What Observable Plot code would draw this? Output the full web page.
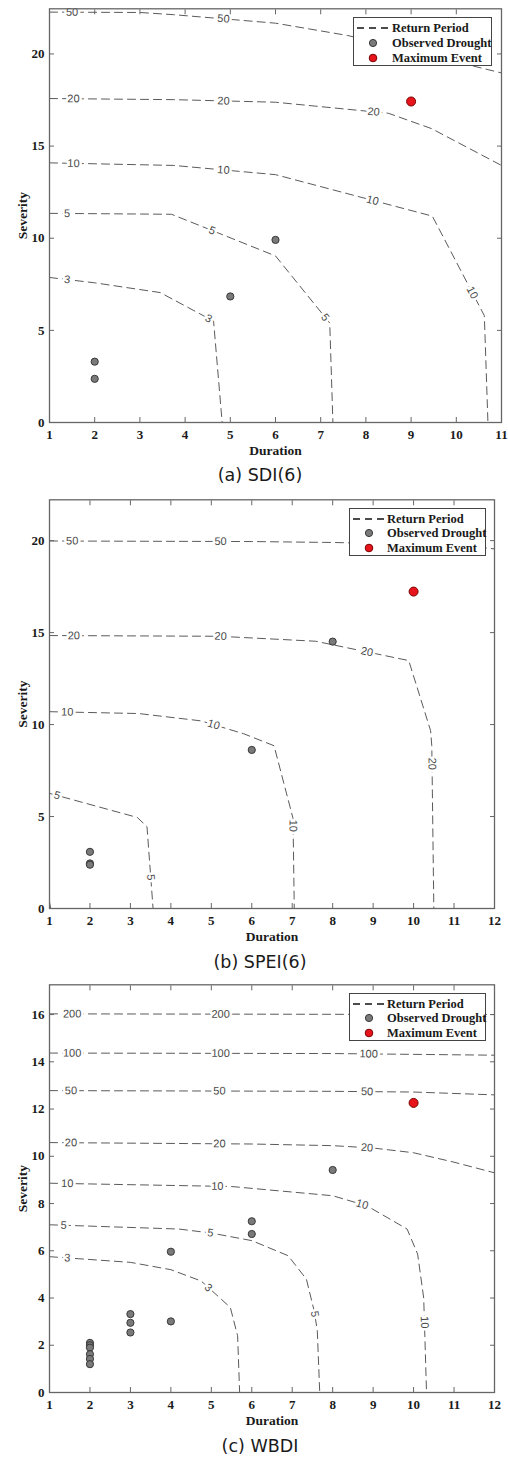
<!DOCTYPE html>
<html><head><meta charset="utf-8">
<script src="https://cdn.jsdelivr.net/npm/d3@7"></script>
<script src="https://cdn.jsdelivr.net/npm/@observablehq/plot@0.6"></script>
<style>
body{margin:0;background:#fff;}
#root{position:relative;width:508px;height:1457px;overflow:hidden;}
.panel{position:absolute;left:0;}
.caption{position:absolute;left:0;width:520px;text-align:center;font-family:"DejaVu Sans",sans-serif;font-size:17.5px;line-height:22px;color:#1a1a1a;}
.legend{position:absolute;border:1px solid #444;background:#fff;font-family:"Liberation Serif",serif;font-weight:bold;font-size:12.5px;color:#1a1a1a;box-sizing:border-box;}
.legend .row{position:absolute;left:0;right:0;height:14px;line-height:14px;white-space:nowrap;}
.legend svg{position:absolute;left:0;top:0;}
.legend span{position:absolute;top:0;}
</style>
</head><body>
<div id="root"></div>
<script>
// ---------- (a) SDI(6) ----------
const sdiLevels = [3, 5, 10, 20, 50];
const sdiRP3  = [[1,7.87],[2,7.58],[3.45,7.05],[4.63,5.5],[4.82,0]];
const sdiRP5  = [[1,11.35],[3.7,11.3],[6,9.04],[7.2,5.4],[7.27,0]];
const sdiRP10 = [[1,14.09],[3.75,13.95],[6,13.45],[9.47,11.2],[10.62,5.8],[10.7,0]];
const sdiRP20 = [[1,17.58],[3.75,17.52],[6,17.38],[8.5,16.78],[9.45,15.95],[11,13.95]];
const sdiRP50 = [[1,22.27],[3,22.25],[3.75,22.13],[6,21.67],[7.6,21.0],[10.7,19.15],[11,18.97]];
const sdiLabels = [[50,"x",1.5],[50,"x",4.85],[20,"x",1.53],[20,"x",4.85],[20,"x",8.17],
  [10,"x",1.53],[10,"x",4.85],[10,"x",8.15],[10,"y",7.05],[5,"x",1.39],[5,"x",4.6],[5,"y",5.7],[3,"x",1.39],[3,"x",4.52]];
const sdiObsDur = [2, 2, 5, 6];
const sdiObsSev = [3.3, 2.37, 6.84, 9.91];
const sdiMaxDur = [9];
const sdiMaxSev = [17.42];
const sdiXTicks = [1,2,3,4,5,6,7,8,9,10,11];
const sdiYTicks = [0,5,10,15,20];

// ---------- (b) SPEI(6) ----------
const speiLevels = [3, 5, 10, 20, 50];
const speiRP3  = [[1,0.35],[1.03,0]];
const speiRP5  = [[1,6.26],[3.17,4.95],[3.41,4.45],[3.56,0]];
const speiRP10 = [[1,10.7],[3.2,10.6],[4.75,10.2],[5.8,9.5],[6.55,8.85],[7.02,4.9],[7.05,0]];
const speiRP20 = [[1,14.84],[5.2,14.8],[7.58,14.53],[9.88,13.48],[10.42,9.67],[10.45,8.85],[10.5,0]];
const speiRP50 = [[1,19.98],[6,19.95],[8,19.9],[10,19.8],[11.8,19.6],[12,19.55]];
const speiLabels = [[50,"x",1.56],[50,"x",5.23],[20,"x",1.6],[20,"x",5.23],[20,"x",8.85],[20,"y",7.87],
  [10,"x",1.44],[10,"x",5.06],[10,"y",4.5],[5,"x",1.19],[5,"y",1.69]];
const speiObsDur = [2, 2, 2, 6, 8];
const speiObsSev = [3.08, 2.45, 2.38, 8.62, 14.51];
const speiMaxDur = [10];
const speiMaxSev = [17.23];
const speiXTicks = [1,2,3,4,5,6,7,8,9,10,11,12];
const speiYTicks = [0,5,10,15,20];

// ---------- (c) WBDI ----------
const wbdiLevels = [3, 5, 10, 20, 50, 100, 200];
const wbdiRP3   = [[1,5.75],[3,5.51],[4,5.2],[4.75,4.72],[5.47,3.6],[5.65,2.4],[5.7,0]];
const wbdiRP5   = [[1,7.1],[4.2,6.92],[5,6.75],[6,6.43],[6.9,5.79],[7.35,4.8],[7.55,3.4],[7.62,2.6],[7.68,0]];
const wbdiRP10  = [[1,8.86],[5.5,8.72],[8,8.33],[8.85,7.9],[9.84,6.92],[10.1,5.86],[10.25,4.0],[10.32,0]];
const wbdiRP20  = [[1,10.58],[6,10.52],[8,10.45],[9,10.35],[10,10.15],[11,9.75],[12,9.3]];
const wbdiRP50  = [[1,12.78],[8,12.75],[10,12.72],[12,12.6]];
const wbdiRP100 = [[1,14.37],[8,14.35],[12,14.28]];
const wbdiRP200 = [[1,16.03],[12,16.0]];
const wbdiLabels = [[200,"x",1.56],[200,"x",5.23],[100,"x",1.56],[100,"x",5.23],[100,"x",8.89],
  [50,"x",1.53],[50,"x",5.2],[50,"x",8.85],[20,"x",1.53],[20,"x",5.2],[20,"x",8.85],
  [10,"x",1.44],[10,"x",5.15],[10,"x",8.73],[10,"y",2.97],[5,"x",1.35],[5,"x",4.98],[5,"y",3.32],[3,"x",1.44],[3,"x",4.93]];
const wbdiObsDur = [2,2,2,2,2,2, 3,3,3, 4,4, 6,6, 8];
const wbdiObsSev = [2.1,2.0,1.9,1.62,1.42,1.2, 3.32,2.95,2.54, 5.96,3.01, 7.25,6.71, 9.42];
const wbdiMaxDur = [10];
const wbdiMaxSev = [12.26];
const wbdiXTicks = [1,2,3,4,5,6,7,8,9,10,11,12];
const wbdiYTicks = [0,2,4,6,8,10,12,14,16];

const W = 508;
const root = document.getElementById("root");

function buildPanel(cfg) {
  const {top, height, mt, mb, ml, mr, xDomain, yDomain, xTicks, yTicks, levels, contours, labels,
         obsDur, obsSev, maxDur, maxSev, caption, capTop, legend} = cfg;
  const px = d3.scaleLinear(xDomain, [ml, W - mr]);
  const py = d3.scaleLinear(yDomain, [height - mb, mt]);
  const lineData = contours.flatMap((pts, i) => pts.map(([d, s]) => ({d, s, rp: levels[i]})));
  function place(pts, key, v) {
    for (let i = 0; i < pts.length - 1; i++) {
      const [x0, y0] = pts[i], [x1, y1] = pts[i + 1];
      const a = key === "x" ? x0 : y0, b = key === "x" ? x1 : y1;
      if (a !== b && (v - a) * (v - b) <= 0) {
        const t = (v - a) / (b - a);
        const ang = Math.atan2(py(y1) - py(y0), px(x1) - px(x0)) * 180 / Math.PI;
        return {x: x0 + t * (x1 - x0), y: y0 + t * (y1 - y0), ang};
      }
    }
    return null;
  }
  const labelData = labels.map(([rp, key, v]) => {
    const p = place(contours[levels.indexOf(rp)], key, v);
    return p ? {...p, rp} : null;
  }).filter(Boolean);
  const obs = obsDur.map((d, i) => ({d, s: obsSev[i]}));
  const mx = maxDur.map((d, i) => ({d, s: maxSev[i]}));
  const grey = "#666";
  const chart = Plot.plot({
    width: W, height, marginTop: mt, marginBottom: mb, marginLeft: ml, marginRight: mr,
    x: {domain: xDomain, label: null},
    y: {domain: yDomain, label: null},
    style: {fontFamily: "Liberation Serif", fontSize: "13px", fontWeight: "bold", color: "#1a1a1a", background: "transparent", overflow: "visible"},
    marks: [
      Plot.line(lineData, {x: "d", y: "s", z: "rp", stroke: "#5a5a5a", strokeWidth: 1, strokeDasharray: "8,5", clip: true}),
      Plot.text(labelData, {x: "x", y: "y", text: d => String(d.rp), rotate: "ang", fill: "#4a4a4a", stroke: "white", strokeWidth: 5,
        fontFamily: "Liberation Sans", fontSize: 11, fontWeight: "normal"}),
      Plot.dot(obs, {x: "d", y: "s", r: 3.6, fill: "#7a7a7a", stroke: "#383838", strokeWidth: 1}),
      Plot.dot(mx, {x: "d", y: "s", r: 4.5, fill: "#e8141b", stroke: "#7a0000", strokeWidth: 1}),
      Plot.frame({stroke: grey, strokeWidth: 1.3}),
      Plot.axisX({ticks: xTicks, tickSize: 0, tickPadding: 7, tickFormat: d => String(d), label: null}),
      Plot.axisX({ticks: xTicks, anchor: "bottom", tickSize: -5, tickFormat: () => "", stroke: grey, label: null}),
      Plot.axisX({ticks: xTicks, anchor: "top", tickSize: -5, tickFormat: () => "", stroke: grey, label: null}),
      Plot.axisY({ticks: yTicks, tickSize: 0, tickPadding: 5, tickFormat: d => String(d), label: null}),
      Plot.axisY({ticks: yTicks, anchor: "left", tickSize: -5, tickFormat: () => "", stroke: grey, label: null}),
      Plot.axisY({ticks: yTicks, anchor: "right", tickSize: -5, tickFormat: () => "", stroke: grey, label: null}),
      Plot.text(["Duration"], {frameAnchor: "bottom", dy: 28, lineAnchor: "middle", textAnchor: "middle", fontSize: 13.5, text: d => d}),
      Plot.text(["Severity"], {frameAnchor: "left", dx: -27, rotate: -90, lineAnchor: "middle", textAnchor: "middle", fontSize: 13.5, text: d => d})
    ]
  });
  const wrap = document.createElement("div");
  wrap.className = "panel";
  wrap.style.top = top + "px";
  wrap.appendChild(chart);
  root.appendChild(wrap);

  const cap = document.createElement("div");
  cap.className = "caption";
  cap.style.top = capTop + "px";
  cap.textContent = caption;
  root.appendChild(cap);

  const lg = document.createElement("div");
  lg.className = "legend";
  Object.assign(lg.style, {left: legend.left + "px", top: legend.top + "px", width: legend.w + "px", height: legend.h + "px"});
  const items = [
    {t: "Return Period", sym: `<line x1="3" x2="34" y1="7" y2="7" stroke="#111" stroke-width="1.7" stroke-dasharray="7,5"/>`},
    {t: "Observed Drought", sym: `<circle cx="19" cy="7" r="3.6" fill="#7a7a7a" stroke="#383838"/>`},
    {t: "Maximum Event", sym: `<circle cx="19" cy="7" r="3.8" fill="#e8141b" stroke="#7a0000"/>`}
  ];
  items.forEach((it, i) => {
    const row = document.createElement("div");
    row.className = "row";
    row.style.top = (legend.first + i * legend.gap - 7) + "px";
    row.innerHTML = `<svg width="40" height="14">${it.sym}</svg><span style="left:${legend.tx}px">${it.t}</span>`;
    lg.appendChild(row);
  });
  root.appendChild(lg);
}

buildPanel({top: 0, height: 462, mt: 8.3, mb: 40, ml: 49, mr: 7, xDomain: [1, 11], yDomain: [0, 22.45],
  xTicks: sdiXTicks, yTicks: sdiYTicks, levels: sdiLevels, contours: [sdiRP3, sdiRP5, sdiRP10, sdiRP20, sdiRP50],
  labels: sdiLabels, obsDur: sdiObsDur, obsSev: sdiObsSev, maxDur: sdiMaxDur, maxSev: sdiMaxSev,
  caption: "(a) SDI(6)", capTop: 464, legend: {left: 353, top: 17, w: 139, h: 49, first: 9.5, gap: 15, tx: 38}});

buildPanel({top: 491, height: 457, mt: 8.3, mb: 40, ml: 49, mr: 14, xDomain: [1, 12], yDomain: [0, 22.22],
  xTicks: speiXTicks, yTicks: speiYTicks, levels: speiLevels, contours: [speiRP3, speiRP5, speiRP10, speiRP20, speiRP50],
  labels: speiLabels, obsDur: speiObsDur, obsSev: speiObsSev, maxDur: speiMaxDur, maxSev: speiMaxSev,
  caption: "(b) SPEI(6)", capTop: 951, legend: {left: 349, top: 508, w: 137, h: 48, first: 9.5, gap: 14.6, tx: 37}});

buildPanel({top: 976, height: 456, mt: 8.3, mb: 40, ml: 49, mr: 14, xDomain: [1, 12], yDomain: [0, 17.26],
  xTicks: wbdiXTicks, yTicks: wbdiYTicks, levels: wbdiLevels, contours: [wbdiRP3, wbdiRP5, wbdiRP10, wbdiRP20, wbdiRP50, wbdiRP100, wbdiRP200],
  labels: wbdiLabels, obsDur: wbdiObsDur, obsSev: wbdiObsSev, maxDur: wbdiMaxDur, maxSev: wbdiMaxSev,
  caption: "(c) WBDI", capTop: 1435, legend: {left: 349, top: 993, w: 137, h: 48, first: 9.5, gap: 14.6, tx: 37}});
</script>
</body></html>
